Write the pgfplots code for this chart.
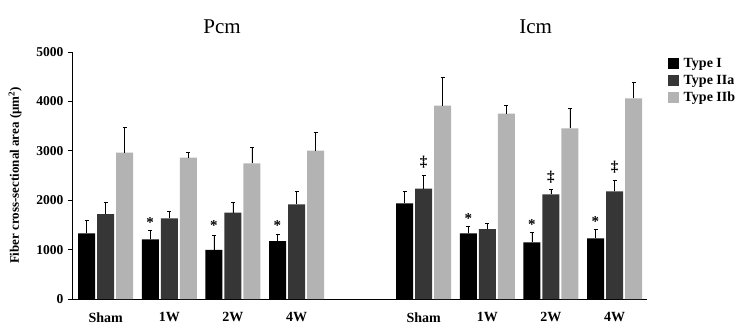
\documentclass[border=0pt]{standalone}
\usepackage{fontspec}
\setmainfont{Liberation Serif}
\usepackage{pgfplots}
\pgfplotsset{compat=1.18}

\definecolor{typeI}{HTML}{000000}
\definecolor{typeIIa}{HTML}{363636}
\definecolor{typeIIb}{HTML}{B3B3B3}

% x positions: Pcm groups at 0-3, Icm groups at 5-8
% columns: x, mean, sd
\pgfplotstableread{
x   y     e
0   1330  255
1   1208  175
2   992   290
3   1174  135
5   1937  243
6   1330  141
7   1148  208
8   1228  183
}\typeI
\pgfplotstableread{
x   y     e
0   1720  230
1   1633  150
2   1747  216
3   1917  255
5   2233  277
6   1417  121
7   2119  94
8   2180  229
}\typeIIa
\pgfplotstableread{
x   y     e
0   2962  520
1   2860  110
2   2746  317
3   3002  364
5   3913  581
6   3751  162
7   3455  411
8   4063  323
}\typeIIb

\begin{document}
\begin{tikzpicture}
\begin{axis}[
  name=ax, at={(0,0)}, anchor=south west,
  scale only axis, width=575pt, height=247pt,
  ybar=2pt, bar width=17pt,
  xmin=-0.53, xmax=8.51, ymin=0, ymax=5000,
  axis lines=left, axis line style={-, line width=0.8pt},
  xtick={0,1,2,3,5,6,7,8},
  xticklabels={Sham,1W,2W,4W,Sham,1W,2W,4W},
  x tick style={draw=none},
  ytick={0,1000,2000,3000,4000,5000},
  y tick style={line width=0.8pt, black},
  tick align=outside, major tick length=4pt,
  scaled y ticks=false,
  /pgf/number format/assume math mode=true,
  /pgf/number format/1000 sep={},
  yticklabel style={font=\bfseries\fontsize{13.5}{15}\selectfont, xshift=-1pt},
  xticklabel style={font=\bfseries\fontsize{14}{16}\selectfont, yshift=-6pt},
  ylabel={\textbf{Fiber cross-sectional area (μm\textsuperscript{2})}},
  ylabel style={font=\fontsize{13}{15}\selectfont, at={(axis description cs:-0.099,0.5)}, anchor=center},
  clip=false,
  legend cell align=left,
  legend style={draw=none, fill=none, at={(axis description cs:1.0365,0.98)}, anchor=north west,
    font=\bfseries\fontsize{14}{16}\selectfont, row sep=3pt, inner sep=0pt,
    nodes={inner sep=1.5pt},
    /tikz/every odd column/.append style={column sep=3pt}},
  legend image code/.code={\path[#1, draw=none] (0pt,-5.5pt) rectangle (11pt,5.5pt);},
  error bars/y dir=plus, error bars/y explicit,
  error bars/error bar style={black, line width=0.8pt},
  error bars/error mark options={rotate=90, black, mark size=2pt, line width=0.8pt},
]
\addplot[fill=typeI, draw=none] table[x=x, y=y, y error=e] {\typeI};
\addplot[fill=typeIIa, draw=none] table[x=x, y=y, y error=e] {\typeIIa};
\addplot[fill=typeIIb, draw=none] table[x=x, y=y, y error=e] {\typeIIb};
\legend{Type I, Type IIa, Type IIb}

% panel titles
\node[font=\fontsize{21}{25}\selectfont] at (axis cs:1.83,5506) {Pcm};
\node[font=\fontsize{21}{25}\selectfont] at (axis cs:6.76,5506) {Icm};

% significance marks
\begin{scope}[font=\bfseries\fontsize{15}{17}\selectfont]
\node at (axis cs:0.70,1540) {*};
\node at (axis cs:1.70,1490) {*};
\node at (axis cs:2.70,1490) {*};
\node at (axis cs:5.70,1620) {*};
\node at (axis cs:6.70,1510) {*};
\node at (axis cs:7.70,1560) {*};
\node at (axis cs:5.0,2770) {‡};
\node at (axis cs:7.0,2470) {‡};
\node at (axis cs:8.0,2670) {‡};
\end{scope}
\end{axis}
\path[use as bounding box] (-72pt,-36pt) rectangle (672pt,299pt);
\end{tikzpicture}
\end{document}
